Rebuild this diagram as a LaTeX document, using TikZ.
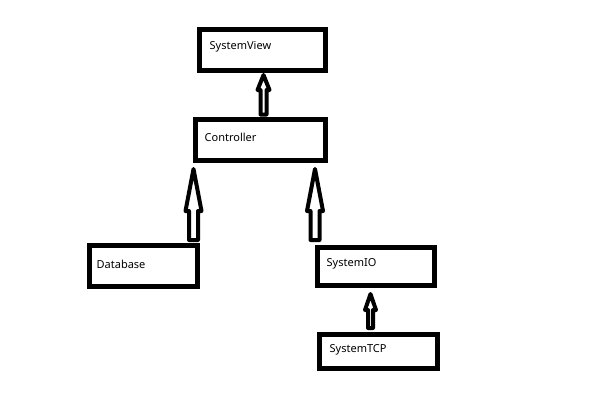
\documentclass[tikz,border=0pt]{standalone}
\usepackage{fontspec}
\setmainfont{Noto Sans}
\usetikzlibrary{calc}
\tikzset{
  box/.style={draw=black, line width=5pt, rectangle, inner sep=0pt, fill=white},
  lbl/.style={anchor=base west, inner sep=0pt, font=\fontsize{11}{13}\selectfont, text=black},
  blockarr/.style={draw=black, line width=4pt, line join=round, fill=white},
}
% #1 from (shaft bottom), #2 to (tip), #3 head half width, #4 shaft half width, #5 head length
\newcommand{\myblockarrow}[5]{%
  \draw[blockarr] let \p1=(#1), \p2=(#2) in
    (\x2,\y2) -- (\x2+#3pt,\y2-#5pt) -- (\x2+#4pt,\y2-#5pt) -- (\x2+#4pt,\y1)
    -- (\x2-#4pt,\y1) -- (\x2-#4pt,\y2-#5pt) -- (\x2-#3pt,\y2-#5pt) -- cycle;}
\begin{document}
\begin{tikzpicture}[x=1pt,y=-1pt]
\useasboundingbox (0,0) rectangle (600,400);
\fill[white] (0,0) rectangle (600,400);

% boxes
\node[box, minimum width=126pt, minimum height=41pt] (sv)   at (262.5,50)   {};
\node[box, minimum width=130pt, minimum height=41pt] (ctrl) at (260.5,140)  {};
\node[box, minimum width=108pt, minimum height=41pt] (db)   at (143.5,266)  {};
\node[box, minimum width=117pt, minimum height=38pt] (sio)  at (376,266.5)  {};
\node[box, minimum width=118pt, minimum height=34pt] (tcp)  at (378.5,351.5){};

% labels
\node[lbl] (svt)   at (209.5,49)   {SystemView};
\node[lbl] (ctrlt) at (204.5,141.5){Controller};
\node[lbl] (dbt)   at (96.5,268)   {Database};
\node[lbl] (siot)  at (326.5,266.5){SystemIO};
\node[lbl] (tcpt)  at (329.5,352.5){SystemTCP};

% arrow end points
\coordinate (aAt) at ($(sv.south)+(1,2)$);
\coordinate (aAb) at ($(ctrl.north)+(3,-2.5)$);
\coordinate (aBt) at ($(ctrl.south)+(-67,6)$);
\coordinate (aBb) at ($(db.north)+(50,-3)$);
\coordinate (aCt) at ($(ctrl.south)+(54.5,6)$);
\coordinate (aCb) at ($(sio.north)+(-61,-5)$);
\coordinate (aDt) at ($(sio.south)+(-5.5,6)$);
\coordinate (aDb) at ($(tcp.north)+(-8,-4)$);

% block arrows
\myblockarrow{aAb}{aAt}{6}{3}{15}
\myblockarrow{aBb}{aBt}{8}{4.5}{42}
\myblockarrow{aCb}{aCt}{8}{4.5}{42}
\myblockarrow{aDb}{aDt}{5.5}{2.5}{16}
\end{tikzpicture}
\end{document}
